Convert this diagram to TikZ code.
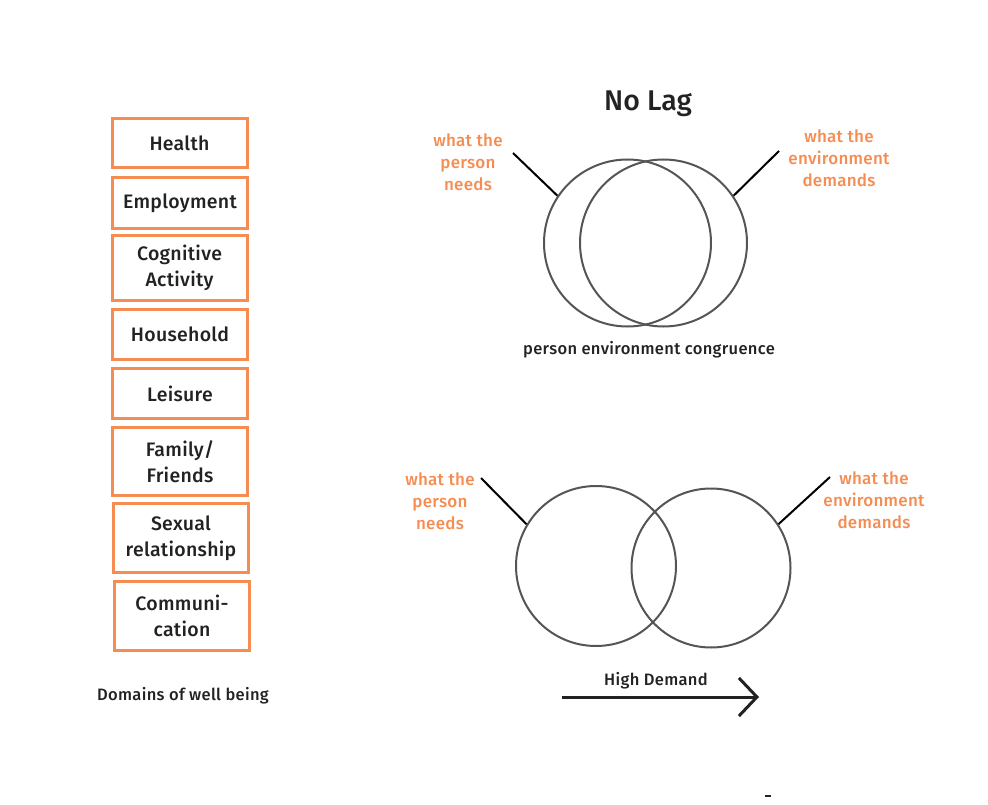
\documentclass[tikz,border=0pt]{standalone}
\usepackage{fontspec}
\setmainfont{Fira Sans Medium}
\usetikzlibrary{arrows.meta}
\definecolor{accent}{RGB}{245,140,82}
\definecolor{ink}{RGB}{34,34,34}
\definecolor{ring}{RGB}{85,85,85}
\begin{document}
\begin{tikzpicture}[x=1pt,y=-1pt,
  domainbox/.style={draw=accent, line width=3pt, minimum width=135pt, align=center,
    text=ink, font=\fontsize{19.5}{26}\selectfont\addfontfeature{LetterSpace=1.5}},
  callout/.style={text=accent, align=center, font=\fontsize{17}{22}\selectfont\addfontfeature{LetterSpace=1.5}},
  caption/.style={text=ink, font=\fontsize{16.5}{18}\selectfont\addfontfeature{LetterSpace=2}},
  ringline/.style={draw=ring, line width=2pt},
  leader/.style={draw=black, line width=2pt}]
\useasboundingbox (0,0) rectangle (988,805);

% domains of well being
\node[domainbox, minimum height=49pt] (health) at (179.5,143) {Health};
\node[domainbox, minimum height=51pt] (employ) at (180,203) {Employment};
\node[domainbox, minimum height=65pt] (cogn) at (179.5,268) {Cognitive\\Activity};
\node[domainbox, minimum height=50pt] (house) at (180,334.5) {Household};
\node[domainbox, minimum height=50pt] (leis) at (180,393.5) {Leisure};
\node[domainbox, minimum height=68pt] (family) at (180,461.5) {Family/\\Friends};
\node[domainbox, minimum height=69pt] (sexual) at (181,538) {Sexual\\relationship};
\node[domainbox, minimum height=69pt] (comm) at (182,616) {Communi-\\cation};
\node[caption] (domcap) at (183,696) {Domains of well being};

% no lag: congruent circles
\node[text=ink, font=\fontsize{28.5}{32}\selectfont] (title) at (648,104) {No Lag};
\node[ringline, circle, minimum size=167pt, inner sep=0pt] (personA) at (627.5,243) {};
\node[ringline, circle, minimum size=167pt, inner sep=0pt] (envA) at (663.5,243) {};
\node[callout] (needsA) at (468,162) {what the\\person\\needs};
\node[callout] (demA) at (839,158) {what the\\environment\\demands};
\coordinate (needsAend) at (513,153);
\coordinate (demAend) at (779,151);
\draw[leader] (needsAend) -- (personA.146);
\draw[leader] (demAend) -- (envA.34);
\node[caption] (congr) at (649,350) {person environment congruence};

% high demand: separated circles
\node[ringline, circle, minimum size=160pt, inner sep=0pt] (personB) at (596,566) {};
\node[ringline, circle, minimum size=159pt, inner sep=0pt] (envB) at (711,568) {};
\node[callout] (needsB) at (440,501) {what the\\person\\needs};
\node[callout] (demB) at (874,500) {what the\\environment\\demands};
\coordinate (needsBend) at (481,478);
\coordinate (demBend) at (830,477);
\draw[leader] (needsBend) -- (personB.149);
\draw[leader] (demBend) -- (envB.33);
\node[caption] (highd) at (656,681) {High Demand};
\coordinate (arrowS) at (562,697);
\coordinate (arrowE) at (759,697);
\draw[draw=ink, line width=3pt, -{Straight Barb[length=18pt, width=38pt]}] (arrowS) -- (arrowE);

% stray mark near the lower edge
\fill[ink] (765,794.5) rectangle (771,797);
\end{tikzpicture}
\end{document}
